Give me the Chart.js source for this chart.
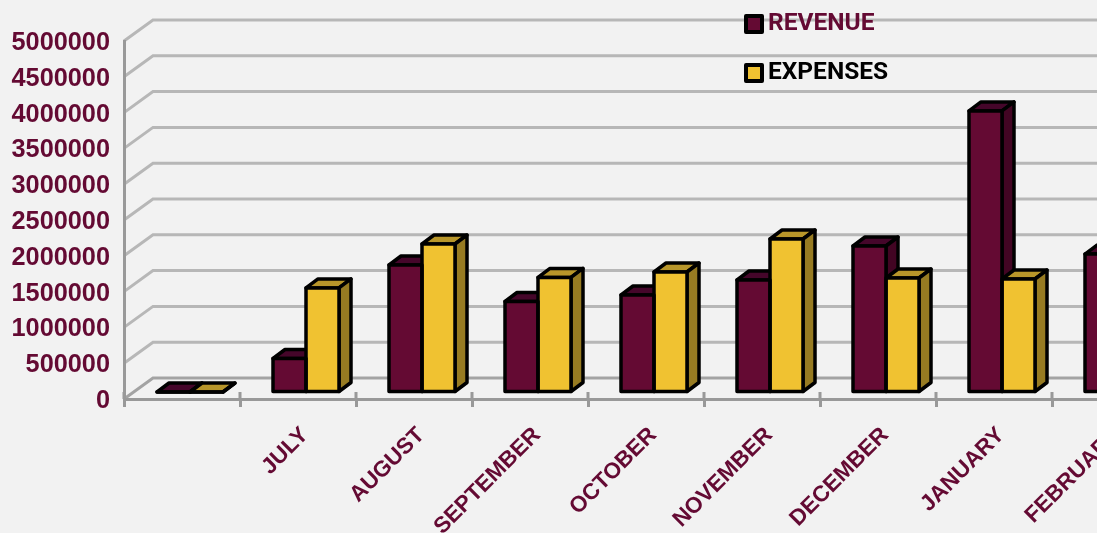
<!DOCTYPE html>
<html>
<head>
<meta charset="utf-8">
<title>Revenue and expenses</title>
<style>
    html, body { margin: 0; padding: 0; width: 1097px; height: 533px; overflow: hidden; background: #f2f2f2; }
    canvas { display: block; }
</style>
<script src="https://cdn.jsdelivr.net/npm/chart.js@4/dist/chart.umd.min.js"></script>
</head>
<body>
<canvas id="finance-chart" width="1200" height="620"></canvas>
<script>
const months = ['', 'JULY', 'AUGUST', 'SEPTEMBER', 'OCTOBER', 'NOVEMBER', 'DECEMBER', 'JANUARY', 'FEBRUARY'];
const revenue = [0, 468000, 1774000, 1264000, 1355000, 1564000, 2039000, 3925000, 1927000];
const expenses = [0, 1453000, 2067000, 1600000, 1676000, 2137000, 1592000, 1578000, null];

const MAROON = '#640a33';
const GOLD = '#f0c231';

// sides of each dataset, front colour comes from the dataset itself
const shades = [
    { top: '#45062a', side: '#420523' },
    { top: '#b8962a', side: '#977b22' }
];

const wall = { dx: 29, dy: -21 };
const barShift = { dx: 8, dy: -7 };
const barDepth = { dx: 12, dy: -9 };
const legendFont = 24.5;

const fake3d = {
    id: 'fake3d',
    afterLayout(chart) {
        const legend = chart.legend;
        const w = legend.width, h = legend.height;
        legend.left = 720.5; legend.right = 720.5 + w;
        legend.top = -12.75; legend.bottom = -12.75 + h;
    },
    beforeDraw(chart) {
        const { ctx, chartArea, scales: { y } } = chart;
        ctx.save();
        y.ticks.forEach((tick, i) => {
            const py = y.getPixelForTick(i);
            ctx.strokeStyle = tick.value === 0 ? '#a3a3a3' : '#b7b7b7';
            ctx.lineWidth = 3;
            ctx.beginPath();
            ctx.moveTo(chartArea.left, py);
            ctx.lineTo(chartArea.left + wall.dx, py + wall.dy);
            ctx.lineTo(chart.width, py + wall.dy);
            ctx.stroke();
        });
        // tick marks poke above the axis line too
        ctx.strokeStyle = '#999999';
        for (let i = 0; i <= months.length; i++) {
            const px = chartArea.left + i * (chartArea.width / months.length);
            ctx.beginPath();
            ctx.moveTo(px, chartArea.bottom - 7);
            ctx.lineTo(px, chartArea.bottom);
            ctx.stroke();
        }
        // legend swatches sit closer to the text than Chart.js allows, so the
        // native box is left empty and drawn here
        const colors = chart.data.datasets.map(ds => ds.backgroundColor);
        ctx.lineWidth = 4;
        ctx.lineJoin = 'round';
        ctx.strokeStyle = '#000';
        colors.forEach((color, i) => {
            const cy = chart.legend.top + legendFont * 1.5 + i * legendFont * 2;
            ctx.fillStyle = color;
            ctx.fillRect(746, cy - 8, 16, 16);
            ctx.strokeRect(746, cy - 8, 16, 16);
        });
        ctx.restore();
    },
    // Chart.js paints the last dataset first, so all sides go in before any front
    beforeDatasetsDraw(chart) {
        const { ctx } = chart;
        ctx.save();
        ctx.translate(barShift.dx, barShift.dy);
        ctx.strokeStyle = '#000';
        ctx.lineWidth = 3.5;
        ctx.lineJoin = 'round';
        chart.data.datasets.forEach((ds, index) => {
            const shade = shades[index];
            chart.getDatasetMeta(index).data.forEach(bar => {
                if (bar.skip) return;
                const { x, y, base, width } = bar.getProps(['x', 'y', 'base', 'width'], true);
                const l = x - width / 2, r = x + width / 2;
                ctx.fillStyle = shade.top;
                ctx.beginPath();
                ctx.moveTo(l, y);
                ctx.lineTo(l + barDepth.dx, y + barDepth.dy);
                ctx.lineTo(r + barDepth.dx, y + barDepth.dy);
                ctx.lineTo(r, y);
                ctx.closePath();
                ctx.fill();
                ctx.stroke();
                ctx.fillStyle = shade.side;
                ctx.beginPath();
                ctx.moveTo(r, y);
                ctx.lineTo(r + barDepth.dx, y + barDepth.dy);
                ctx.lineTo(r + barDepth.dx, base + barDepth.dy);
                ctx.lineTo(r, base);
                ctx.closePath();
                ctx.fill();
                ctx.stroke();
            });
        });
    },
    afterDatasetsDraw(chart) {
        const { ctx } = chart;
        chart.data.datasets.forEach((ds, index) => {
            chart.getDatasetMeta(index).data.forEach(bar => {
                if (bar.skip) return;
                const { x, y, base, width } = bar.getProps(['x', 'y', 'base', 'width'], true);
                ctx.strokeRect(x - width / 2, y, width, base - y);
            });
        });
        ctx.restore();
    }
};

const ctx = document.getElementById('finance-chart').getContext('2d');
new Chart(ctx, {
    type: 'bar',
    data: {
        labels: months,
        datasets: [
            { label: 'REVENUE', data: revenue, backgroundColor: MAROON, barThickness: 33, clip: false },
            { label: 'EXPENSES', data: expenses, backgroundColor: GOLD, barThickness: 33, clip: false }
        ]
    },
    options: {
        responsive: false,
        animation: false,
        layout: { padding: { top: 41, right: 32 } },
        scales: {
            x: {
                border: { color: '#999999', width: 3 },
                grid: { drawOnChartArea: false, color: '#999999', lineWidth: 3, tickLength: 8 },
                afterFit: scale => { scale.height = 221; },
                ticks: {
                    autoSkip: false,
                    minRotation: 45,
                    maxRotation: 45,
                    padding: 15,
                    labelOffset: 7,
                    color: MAROON,
                    font: { family: '"Liberation Sans"', size: 22.5, weight: 'bold' }
                }
            },
            y: {
                min: 0,
                max: 5000000,
                border: { color: '#999999', width: 3 },
                grid: { drawOnChartArea: false, drawTicks: false },
                afterFit: scale => { scale.width = 124; },
                ticks: {
                    stepSize: 500000,
                    padding: 14,
                    labelOffset: 2,
                    color: MAROON,
                    font: { family: '"Liberation Sans"', size: 25.3, weight: 'bold' },
                    callback: value => String(value)
                }
            }
        },
        plugins: {
            tooltip: { enabled: false },
            legend: {
                position: 'chartArea',
                align: 'start',
                onClick: null,
                labels: {
                    boxWidth: 10.75,
                    boxHeight: 16,
                    padding: legendFont,
                    font: { family: 'Roboto', size: legendFont, weight: 'bold' },
                    generateLabels: chart => chart.data.datasets.map((ds, i) => ({
                        text: ds.label,
                        fillStyle: 'transparent',
                        strokeStyle: 'transparent',
                        lineWidth: 0,
                        fontColor: i === 0 ? MAROON : '#000',
                        datasetIndex: i
                    }))
                }
            }
        }
    },
    plugins: [fake3d]
});
</script>
</body>
</html>
